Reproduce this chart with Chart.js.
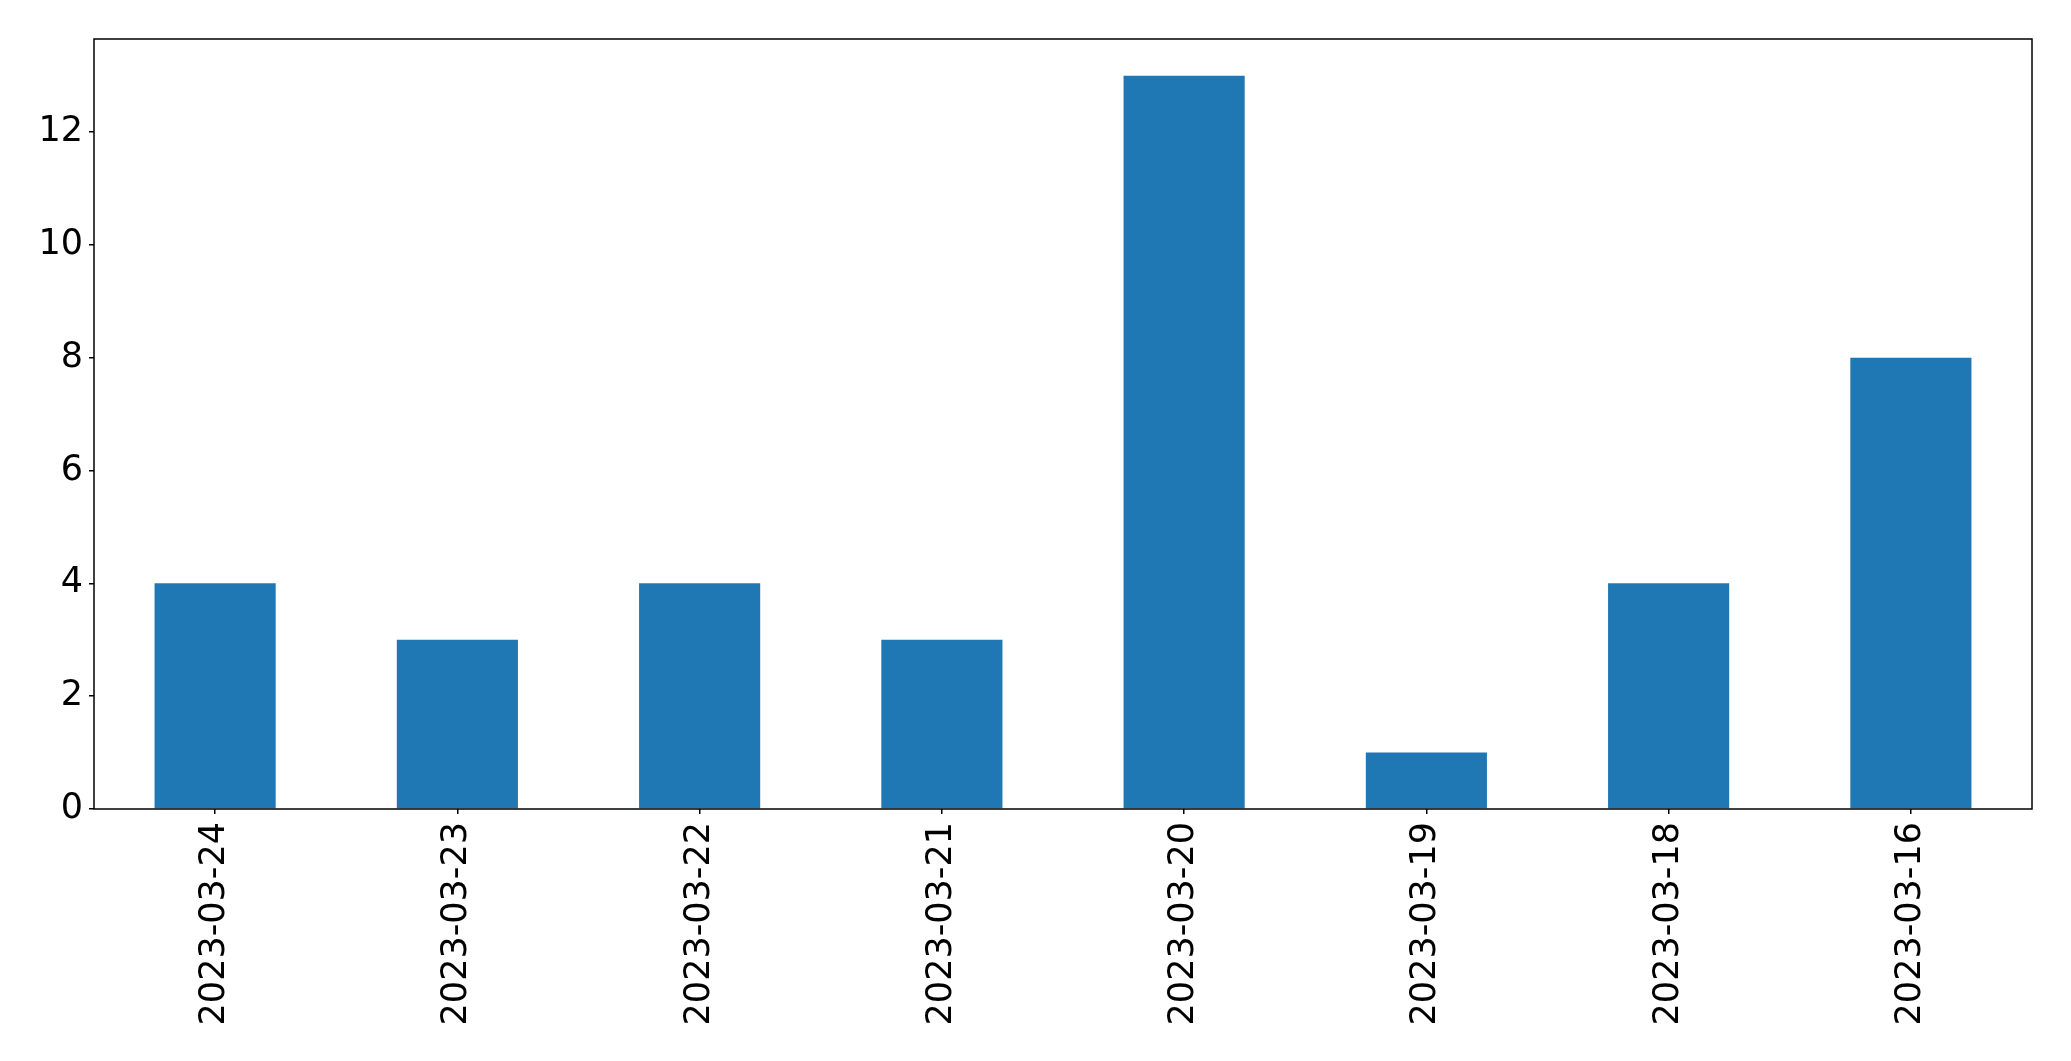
<!DOCTYPE html>
<html>
<head>
<meta charset="utf-8">
<script src="https://cdn.jsdelivr.net/npm/chart.js@4"></script>
<style>
  html, body { margin: 0; padding: 0; background: #fff; }
  canvas { display: block; }
</style>
</head>
<body>
<canvas id="chartId" width="2071" height="1061"></canvas>
<script>
// counts per day, newest first

const dates = ['2023-03-24', '2023-03-23', '2023-03-22', '2023-03-21',
               '2023-03-20', '2023-03-19', '2023-03-18', '2023-03-16'];
const counts = [4, 3, 4, 3, 13, 1, 4, 8];
const yTicks = [0, 2, 4, 6, 8, 10, 12];

const yMax = Math.max(...counts) * 1.05;

// box round the plot area
const frame = {
  id: 'frame',
  afterDraw(chart) {
    const a = chart.chartArea;
    const ctx = chart.ctx;
    ctx.save();
    ctx.strokeStyle = '#000';
    ctx.lineWidth = 1.5;
    ctx.strokeRect(a.left, a.top, a.right - a.left, a.bottom - a.top);
    ctx.restore();
  }
};

const font = { family: 'DejaVu Sans', size: 35 };

var chrt = document.getElementById('chartId').getContext('2d');
var chartId = new Chart(chrt, {
  type: 'bar',
  data: {
    labels: dates,
    datasets: [{
      data: counts,
      backgroundColor: '#1f77b4',
      barPercentage: 0.5,
      categoryPercentage: 1.0
    }]
  },
  options: {
    responsive: false,
    animation: false,
    events: [],
    layout: { padding: { left: 0, top: 39, right: 39, bottom: 0 } },
    plugins: { legend: { display: false }, tooltip: { enabled: false } },
    scales: {
      x: {
        grid: { display: true, drawOnChartArea: false, offset: false, tickLength: 5, color: '#000', lineWidth: 1.5 },
        border: { display: false },
        ticks: { color: '#000', font: font, maxRotation: 90, minRotation: 90, padding: 8, autoSkip: false },
        afterFit(scale) { scale.height = 252; }
      },
      y: {
        min: 0,
        max: yMax,
        grid: { display: true, drawOnChartArea: false, tickLength: 5, color: '#000', lineWidth: 1.5 },
        border: { display: false },
        ticks: { color: '#000', font: font, padding: 6, includeBounds: false },
        afterBuildTicks(scale) { scale.ticks = yTicks.map(v => ({ value: v })); },
        afterFit(scale) { scale.width = 94; }
      }
    }
  },
  plugins: [frame]
});
</script>
</body>
</html>
